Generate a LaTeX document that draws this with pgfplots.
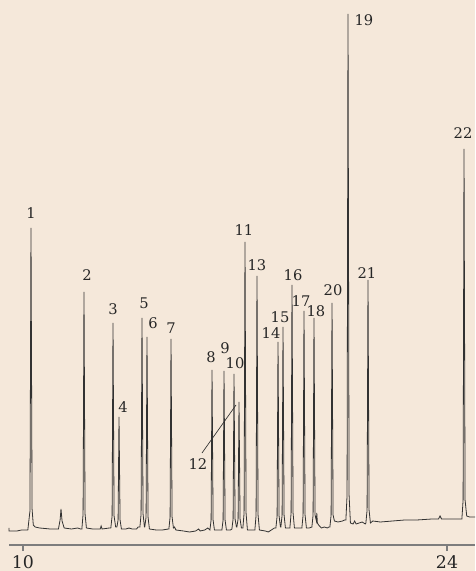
\documentclass[border=0pt]{standalone}
\usepackage{fontspec}
\setmainfont{DejaVu Serif}
\usepackage{pgfplots}
\pgfplotsset{compat=1.18}

\definecolor{paper}{RGB}{245,232,218}
\definecolor{trace}{RGB}{50,50,50}
\definecolor{axisgray}{RGB}{125,125,125}

\begin{document}
\begin{tikzpicture}
% page = 475 x 571 px at 0.75pt per px
\path[use as bounding box, fill=paper] (0,0) rectangle (356.25pt,428.25pt);
\begin{axis}[
    at={(6.75pt,19.5pt)}, anchor=south west,
    scale only axis,
    width=349.5pt, height=408.75pt,
    xmin=9.538, xmax=24.924,
    ymin=0, ymax=545,
    axis x line=bottom, axis y line=none,
    axis line style={-, draw=axisgray, line width=0.9pt},
    xtick={10,24}, ytick=\empty,
    tick style={draw=axisgray, line width=0.9pt},
    major tick length=4.5pt, tick align=outside,
    xticklabel style={font=\fontsize{13}{15}\selectfont, text=black!85, inner sep=0pt, anchor=north, yshift=-3pt},
    /pgf/number format/assume math mode=true,
    clip=false,
]
\addplot[trace, line width=0.6pt] coordinates {
(9.54,17)(9.54,14)(9.80,14)(9.95,15)(10.10,15)
(10.16,15)(10.23,34)(10.264,317)(10.30,36)(10.34,20)(10.40,18)(10.55,17)(10.9,16)
(11.17,16)(11.225,25)(11.255,36)(11.29,24)(11.36,17)(11.6,16)(11.8,17)(11.9,16)
(11.944,16)(11.984,31)(12.014,253)(12.049,31)(12.094,17)
(12.3,16)(12.55,16)(12.58,19)(12.61,16)(12.85,17)
(12.90,17)(12.942,29)(12.972,222)(13.007,29)(13.06,18)
(13.10,18)(13.14,25)(13.17,128)(13.205,25)(13.25,16)
(13.4,16)(13.5,17)(13.6,16)(13.75,16)(13.80,18)
(13.86,18)(13.899,31)(13.929,227)(13.964,31)(14.01,18)
(14.02,18)(14.064,28)(14.094,208)(14.129,28)(14.174,16)
(14.4,15)(14.6,15)(14.8,16)
(14.817,16)(14.857,28)(14.887,206)(14.922,28)(14.967,17)(15.0,18)(15.05,15)(15.3,14)(15.5,13)(15.7,14)(15.8,16)(15.85,14)(16.0,15)(16.1,17)
(16.171,15)(16.211,25)(16.241,175)(16.276,25)(16.321,15)
(16.5,15)
(16.567,15)(16.607,25)(16.637,174)(16.672,25)(16.717,15)
(16.85,15)
(16.897,16)(16.937,26)(16.967,171)(17.002,26)(17.047,18)
(17.062,18)(17.102,26)(17.132,143)(17.167,26)(17.212,17)
(17.26,17)(17.30,32)(17.33,303)(17.365,32)(17.41,15)
(17.6,15)
(17.656,15)(17.696,30)(17.726,269)(17.761,30)(17.806,15)
(18.0,14)(18.1,13)(18.2,15)(18.3,17)
(18.35,17)(18.39,29)(18.42,203)(18.455,29)(18.50,18)
(18.515,18)(18.555,30)(18.585,218)(18.62,30)(18.665,17)
(18.75,17)
(18.812,17)(18.852,32)(18.882,260)(18.917,32)(18.962,17)
(19.15,17)
(19.208,17)(19.248,30)(19.278,234)(19.313,30)(19.358,17)
(19.45,17)
(19.538,18)(19.578,30)(19.608,227)(19.643,30)(19.688,24)(19.70,32)(19.72,22)(19.76,20)(19.85,17)(19.95,18)(20.05,17)(20.1,18)
(20.133,18)(20.173,30)(20.203,242)(20.238,30)(20.283,24)(20.4,23)(20.55,24)(20.62,25)
(20.661,25)(20.70,50)(20.731,531)(20.766,50)(20.811,22)(20.9,21)(20.95,24)(21.0,21)(21.1,22)(21.2,23)(21.3,21)
(21.321,22)(21.361,35)(21.391,265)(21.426,35)(21.471,22)(21.55,24)(21.8,23)(22.2,24)(22.6,25)(23.0,25)(23.5,26)(23.72,26)(23.77,29)(23.82,26)(24.2,26)(24.45,26)
(24.491,26)(24.531,45)(24.561,396)(24.596,45)(24.65,29)(24.75,28)(24.924,28)
};

% peak numbers
\begin{scope}[every node/.style={font=\fontsize{11}{13}\selectfont, text=black!85, inner sep=0pt}]
\node at (axis cs:10.264,332) {1};
\node at (axis cs:12.113,270) {2};
\node at (axis cs:12.972,236) {3};
\node at (axis cs:13.302,138) {4};
\node at (axis cs:13.995,242) {5};
\node at (axis cs:14.292,222) {6};
\node at (axis cs:14.887,217) {7};
\node at (axis cs:16.208,188) {8};
\node at (axis cs:16.670,197) {9};
\node at (axis cs:17.000,182) {10};
\node at (axis cs:17.297,315) {11};
\node at (axis cs:15.778,81) {12};
\node at (axis cs:17.726,280) {13};
\node at (axis cs:18.189,212) {14};
\node at (axis cs:18.486,228) {15};
\node at (axis cs:18.915,270) {16};
\node at (axis cs:19.179,244) {17};
\node at (axis cs:19.674,234) {18};
\node at (axis cs:21.259,525) {19};
\node at (axis cs:20.236,255) {20};
\node at (axis cs:21.358,272) {21};
\node at (axis cs:24.528,412) {22};
\end{scope}
\draw[trace, line width=0.5pt] (axis cs:15.91,92) -- (axis cs:17.033,140);
\end{axis}
\end{tikzpicture}
\end{document}
